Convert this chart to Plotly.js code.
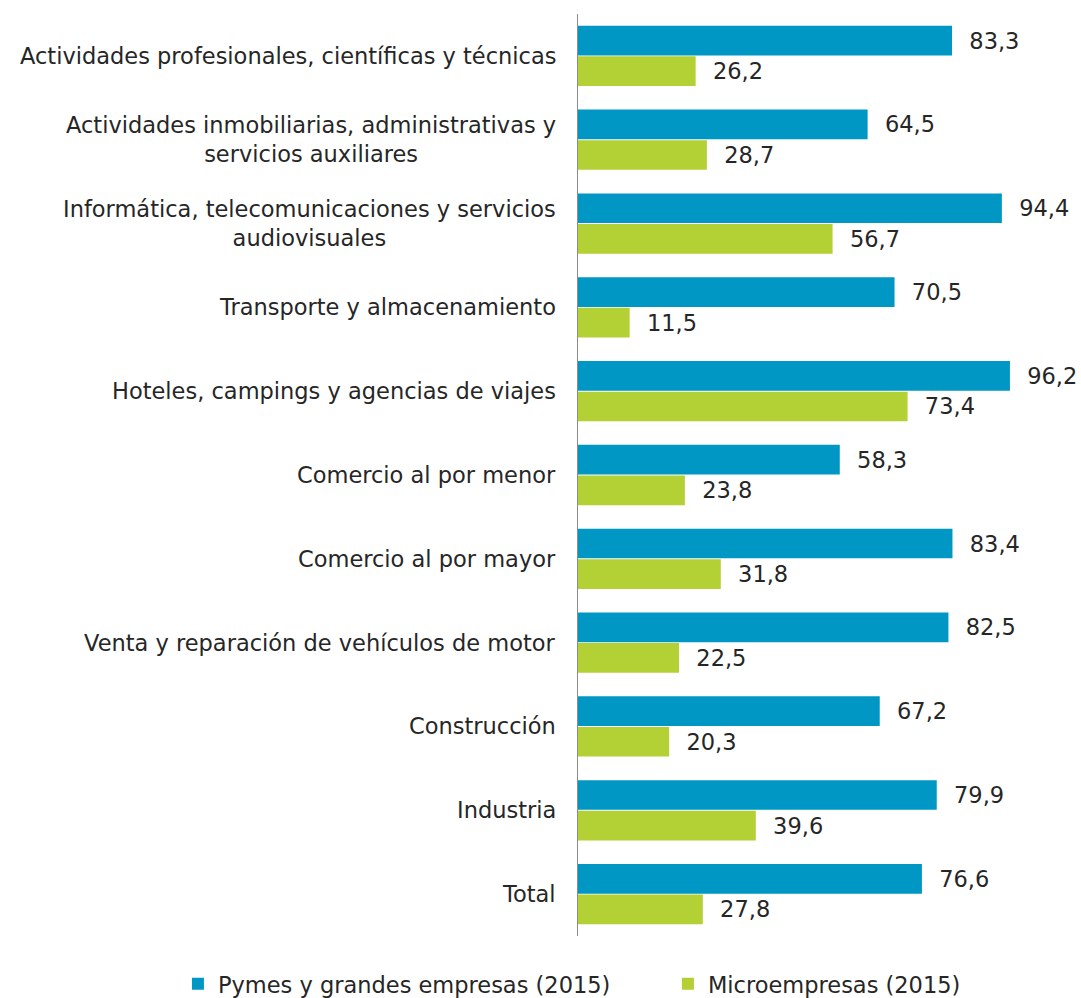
<!DOCTYPE html>
<html>
<head>
<meta charset="utf-8">
<script src="https://cdn.plot.ly/plotly-3.0.1.min.js"></script>
<style>
  body { margin: 0; background: #fff; }
  #chart { width: 1081px; height: 998px; }
</style>
</head>
<body>
<div id="chart"></div>
<script>
// categories, top to bottom
var sectores = [
  "Actividades profesionales, científicas y técnicas",
  "Actividades inmobiliarias, administrativas y<br>servicios auxiliares",
  "Informática, telecomunicaciones y servicios<br>audiovisuales",
  "Transporte y almacenamiento",
  "Hoteles, campings y agencias de viajes",
  "Comercio al por menor",
  "Comercio al por mayor",
  "Venta y reparación de vehículos de motor",
  "Construcción",
  "Industria",
  "Total"
];
var pymes = [83.3, 64.5, 94.4, 70.5, 96.2, 58.3, 83.4, 82.5, 67.2, 79.9, 76.6];
var micro = [26.2, 28.7, 56.7, 11.5, 73.4, 23.8, 31.8, 22.5, 20.3, 39.6, 27.8];
var nombres = ["Pymes y grandes empresas (2015)", "Microempresas (2015)"];

var FONT = "DejaVu Sans, Verdana, sans-serif";
var TXT = "#262626";
var SIZE = 22.5;

var trace1 = {
  type: 'bar', orientation: 'h',
  y: sectores, x: pymes, name: nombres[0],
  marker: { color: '#0097c4' },
  texttemplate: '\u00a0\u00a0%{x:.1f}', textposition: 'outside',
  textfont: { family: FONT, size: SIZE, color: TXT },
  cliponaxis: false, hoverinfo: 'x'
};
var trace2 = {
  type: 'bar', orientation: 'h',
  y: sectores, x: micro, name: nombres[1],
  marker: { color: '#b3d035' },
  texttemplate: '\u00a0\u00a0%{x:.1f}', textposition: 'outside',
  textfont: { family: FONT, size: SIZE, color: TXT },
  cliponaxis: false, hoverinfo: 'x'
};

// category labels as annotations so two-line labels stay centred
var etiquetas = [];
for (var i = 0; i < sectores.length; i++) {
  etiquetas.push({
    xref: 'paper', x: 0, yref: 'y', y: sectores[i],
    xanchor: 'right', yanchor: 'middle', xshift: -20,
    align: 'center', showarrow: false, text: sectores[i],
    font: { family: FONT, size: SIZE, color: TXT }
  });
}

var layout = {
  width: 1081, height: 998,
  margin: { l: 578, r: 54, t: 14, b: 62, autoexpand: false },
  paper_bgcolor: '#fff', plot_bgcolor: '#fff',
  font: { family: FONT, size: SIZE, color: TXT },
  separators: ',.',
  barmode: 'group', bargap: 0.27, bargroupgap: 0.03,
  xaxis: { range: [0, 100], visible: false, fixedrange: true },
  yaxis: {
    autorange: 'reversed', showticklabels: false, ticks: '',
    showline: true, linecolor: '#8c8c8c', linewidth: 1,
    showgrid: false, zeroline: false
  },
  annotations: etiquetas,
  showlegend: true,
  legend: {
    orientation: 'h',
    x: -0.891, xanchor: 'left', y: -0.029, yanchor: 'top',
    font: { family: FONT, size: SIZE, color: TXT },
    itemwidth: 30, entrywidth: 445, entrywidthmode: 'pixels'
  }
};

Plotly.newPlot('chart', [trace1, trace2], layout, { displayModeBar: false, staticPlot: true });
</script>
</body>
</html>
